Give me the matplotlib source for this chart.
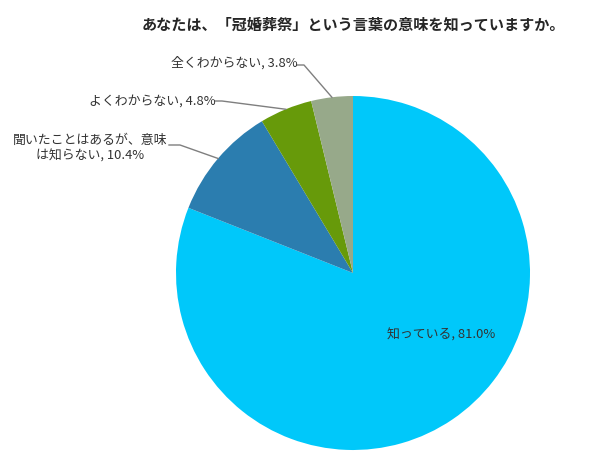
import numpy as np
import matplotlib.pyplot as plt

plt.rcParams['font.family'] = ['Noto Sans CJK JP', 'DejaVu Sans']

labels = ['知っている', '聞いたことはあるが、意味\nは知らない', 'よくわからない', '全くわからない']
values = [81.0, 10.4, 4.8, 3.8]
colors = ['#00C8FA', '#2B7DAF', '#679A0A', '#97A98A']
title = 'あなたは、「冠婚葬祭」という言葉の意味を知っていますか。'

W, H = 600, 469
cx, cy, R = 353, 273, 177  # pie centre and radius in pixels


def to_data(px, py):
    return (px - cx) / R, (cy - py) / R


fig = plt.figure(figsize=(W / 100, H / 100), dpi=100)
ax = fig.add_axes([(cx - R) / W, (H - cy - R) / H, 2 * R / W, 2 * R / H])

wedges, _ = ax.pie(values, colors=colors, startangle=90, counterclock=False,
                   wedgeprops=dict(linewidth=0))
ax.set_xlim(-1, 1)
ax.set_ylim(-1, 1)
ax.set_aspect('equal')

txt_color = '#333333'

# inside label for the big slice
x, y = to_data(441, 335)
ax.text(x, y, f'{labels[0]}, {values[0]:.1f}%', ha='center', va='center',
        fontsize=9.3, color=txt_color)

# outside labels: text centre, line start, kink
outside = {
    1: ((90, 148), (169, 145), (180, 145)),
    2: ((152, 101), (215, 101), (222, 101)),
    3: ((234, 63), (297, 65), (304, 65)),
}
for i, (tpos, lstart, kink) in outside.items():
    w = wedges[i]
    mid = np.deg2rad((w.theta1 + w.theta2) / 2)
    ex, ey = np.cos(mid), np.sin(mid)
    tx, ty = to_data(*tpos)
    ax.text(tx, ty, f'{labels[i]}, {values[i]:.1f}%', ha='center', va='center',
            fontsize=9.3, color=txt_color, linespacing=1.25)
    sx, sy = to_data(*lstart)
    kx, ky = to_data(*kink)
    ax.plot([sx, kx, ex], [sy, ky, ey], color='#7f7f7f', lw=1, clip_on=False)

fig.text(353 / W, 1 - 25 / H, title, ha='center', va='center',
         fontsize=10.9, fontweight='bold', color='#262626')

fig.savefig('out.png', dpi=100)
